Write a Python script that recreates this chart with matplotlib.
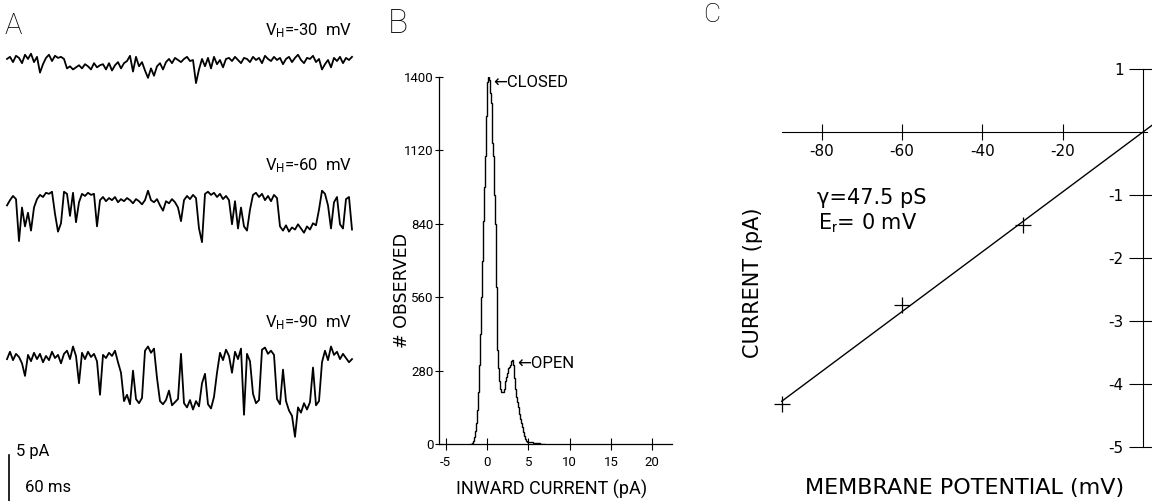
import numpy as np
import matplotlib
matplotlib.use("Agg")
import matplotlib.pyplot as plt

plt.rcParams['axes.unicode_minus'] = False
plt.rcParams['mathtext.fontset'] = 'custom'
plt.rcParams['mathtext.rm'] = 'Roboto'
plt.rcParams['mathtext.it'] = 'Roboto'

NARROW = ['Roboto', 'DejaVu Sans']
PLOTTER = ['DejaVu Sans']

# ---- panel A: single channel records (pA, closed level = 0, openings downward)
trace_30 = [0.1, 0.3, -0.2, 0.4, 0.2, -0.3, 0.5, 0.1, 0.6, -0.2, 0.3, -1.2, -0.4, 0.2, 0.5, -0.1, 0.4, 0.2, 0.3, 0.1,
            -0.8, -0.6, -0.9, -0.7, -0.5, -0.8, -0.4, -0.6, -0.9, -0.3, -0.7, -0.5,
            -0.4, -0.9, -0.3, -1.0, -0.5, -0.2, -0.8, -0.3, -0.1, 0.4, -1.1, 0.3,
            -0.6, -0.2, -1.0, -1.7, -0.8, -1.5, -0.6, -0.3, -0.9, -0.2,
            0.1, -0.3, 0.2, 0.0, -0.2, 0.1, 0.3, -0.1, 0.0, -2.2,
            -0.9, 0.1, -0.6, 0.2, -0.8, 0.3, -0.4, 0.0, -0.7, 0.1,
            0.2, -0.1, 0.3, 0.0, -0.3, 0.2, 0.1, -0.2, 0.3, 0.0, 0.2, -0.3, 0.4, 0.1, -0.1, 0.3, 0.0, 0.2, -0.4, 0.1,
            0.3, -0.2, 0.2, 0.5, 0.0, -0.3, 0.2, 0.1, 0.4, -0.2, 0.1, -0.9, -0.4, 0.0, -0.7, 0.2, -0.1, 0.3, -0.3, 0.2,
            0.0, 0.3]
trace_60 = [-0.8, -0.3, 0.1, -0.2, -4.2, -1.0, -2.8, -1.5, -3.2, -1.0, -0.2, 0.2, 0.0, 0.4, 0.3, 0.5, -1.6, -3.3, -2.5, 0.5,
            0.3, -1.8, 0.4, -2.4, -0.5, 0.3, 0.1, 0.4, 0.2, 0.3, -2.8, -0.3, 0.0, -0.4, -0.1, -0.3, 0.0, -0.5, -0.2, -0.4,
            -0.1, -0.3, -0.6, -0.2, -0.4, -0.7, -0.3, 0.6, -0.3, -0.5, -0.2, -0.8, -1.3, -0.4, -0.6, -0.2, -0.5, -1.0, -2.3, -0.3,
            0.1, -0.2, 0.2, -0.1, -3.0, -4.3, 0.3, 0.5, 0.2, 0.4, 0.0, 0.3, -0.2, 0.1, -0.3, -2.6, -0.4, -3.0, -1.0, -2.8,
            -3.2, -1.2, 0.2, 0.4, 0.0, 0.3, -0.3, 0.1, -0.4, 0.2, -0.1, -2.8, -3.2, -2.7, -3.3, -2.9, -3.1, -2.6, -3.0, -3.4,
            -2.8, -3.1, -2.5, -2.7, -1.2, 0.6, 0.3, -0.8, -3.0, -0.5, 0.0, -2.6, -3.0, -0.2, 0.0, -3.1]
trace_90 = [-0.2, 0.5, -0.3, 0.3, 0.0, -0.6, -1.8, 0.2, -0.4, 0.4, -0.2, 0.3, -0.5, 0.1, -0.3, 0.5, -0.1, 0.2, -0.6, 0.3,
            0.6, -0.2, 1.0, 0.1, -2.5, 0.4, -0.2, 0.5, 0.0, 0.3, -0.4, -3.6, 0.2, -0.1, 0.4, 0.1, 0.6, -0.5, -1.5, -4.2,
            -3.6, -4.5, -1.3, -4.0, -4.4, -3.9, 0.6, 1.0, 0.4, 0.8, -2.0, -4.2, -4.5, -4.1, -3.2, -4.6, -4.3, -4.0, 0.3, -4.4,
            -4.8, -4.1, -5.0, -4.2, -4.7, -2.5, -1.6, -4.5, -4.9, -3.8, -1.5, 0.4, -0.3, 0.7, 0.1, -1.5, 0.5, -0.2, 0.8, -5.5,
            0.3, -0.4, -3.5, -4.4, -4.1, 0.7, 0.9, 0.3, 0.6, 0.2, -4.0, -4.5, -1.2, -4.2, -5.1, -5.6, -7.6, -4.8, -5.3, -4.4,
            -5.0, -4.3, -1.0, -4.6, -4.2, -0.5, 0.6, -0.3, 1.0, 0.2, 0.5, -0.2, 0.3, -0.1, -0.5, -0.2]
trace_labels = [r'V$_{\rm H}$=-30  mV', r'V$_{\rm H}$=-60  mV', r'V$_{\rm H}$=-90  mV']

# ---- panel B: amplitude histogram (0.125 pA bins from -2 pA)
hist_counts = [0, 3, 10, 25, 50, 80, 130, 200,
               300, 420, 560, 700, 850, 980, 1100, 1250,
               1380, 1400, 1390, 1340, 1300, 1150, 1100, 950,
               840, 600, 360, 290, 240, 210, 198, 200,
               210, 240, 255, 270, 290, 295, 300, 315,
               320, 300, 250, 210, 180, 160, 140, 115,
               95, 80, 65, 45, 30, 20, 12, 8,
               6, 7, 9, 8, 7, 5, 4, 3,
               3, 2, 2, 1, 1, 1, 0, 0]
bin_start = -2.0
bin_width = 0.125
hist_yticks = [0, 280, 560, 840, 1120, 1400]
hist_xticks = [-5, 0, 5, 10, 15, 20]

# ---- panel C: I-V relation
iv_voltage = [-90, -60, -30]
iv_current = [-4.32, -2.75, -1.47]
conductance = 0.0475  # nS -> pA per mV
iv_xticks = [-80, -60, -40, -20]
iv_yticks = [1, -1, -2, -3, -4, -5]

W, H = 1152, 501
fig = plt.figure(figsize=(W / 100, H / 100), dpi=100)


def box(x0, y0, x1, y1):
    return [x0 / W, 1 - y1 / H, (x1 - x0) / W, (y1 - y0) / H]


def ftext(x, y, s, **kw):
    fig.text(x / W, 1 - y / H, s, **kw)


# panel A
axA = fig.add_axes(box(0, 0, 360, 501))
px_pa = 10.5
baselines = [60, 197, 357]
for tr, base in zip([trace_30, trace_60, trace_90], baselines):
    t = np.arange(len(tr))
    axA.plot(t, np.array(tr) - (base - baselines[0]) / px_pa, color='black', lw=1.3)
axA.set_xlim(-7 / 3, 353 / 3)
axA.set_ylim(-(H - baselines[0]) / px_pa, baselines[0] / px_pa)
axA.axis('off')
# 5 pA scale bar
bar_top = -(455 - baselines[0]) / px_pa
axA.plot([0.67, 0.67], [bar_top, bar_top - 5], color='black', lw=1.2, clip_on=False)

ftext(13, 26, 'A', family=NARROW, fontsize=21, fontweight='light', ha='center', va='center')
for lab, yb in zip(trace_labels, [35, 170, 327]):
    ftext(352, yb, lab, family=NARROW, fontsize=12, ha='right', va='baseline')
ftext(16, 456, '5 pA', family=NARROW, fontsize=12, va='baseline')
ftext(25, 492, '60 ms', family=NARROW, fontsize=12, va='baseline')

# panel B
axB = fig.add_axes(box(439, 77, 672, 444))
edges = bin_start + bin_width * np.arange(len(hist_counts) + 1)
axB.stairs(hist_counts, edges, color='black', lw=1.0)
axB.set_xlim(-5.81, 22.4)
axB.set_ylim(0, 1400)
for s in ['top', 'right']:
    axB.spines[s].set_visible(False)
for s in ['left', 'bottom']:
    axB.spines[s].set_linewidth(0.9)
axB.set_yticks(hist_yticks)
axB.set_xticks(hist_xticks)
axB.tick_params(axis='y', direction='inout', length=6, pad=1, labelsize=9.5)
axB.tick_params(axis='x', direction='inout', length=8, pad=5, labelsize=9.5)
for lab in axB.get_xticklabels() + axB.get_yticklabels():
    lab.set_family(NARROW)
axB.annotate('\u2190CLOSED', xy=(493 / W, 1 - 83 / H), xycoords='figure fraction',
             family=NARROW, fontsize=12, va='center')
axB.annotate('\u2190OPEN', xy=(517 / W, 1 - 363 / H), xycoords='figure fraction',
             family=NARROW, fontsize=12, va='center')
ftext(398, 24, 'B', family=NARROW, fontsize=24, fontweight='light', ha='center', va='center')
ftext(402, 290, '# OBSERVED', family=PLOTTER, fontsize=12.5, rotation=90, ha='center', va='center')
ftext(552, 489, 'INWARD CURRENT (pA)', family=NARROW, fontsize=13, ha='center', va='center')

# panel C
axC = fig.add_axes(box(760, 60, 1152, 455))
axC.set_xlim((760 - 1143) / 4.015, (1152 - 1143) / 4.015)
axC.set_ylim(-(455 - 132) / 63, (132 - 60) / 63)
v_fit = np.linspace(min(iv_voltage), axC.get_xlim()[1], 2)
axC.plot(v_fit, conductance * v_fit, color='black', lw=1.0)
axC.plot(iv_voltage, iv_current, '+', ms=12, mew=0.9, color='black')
for s in ['top', 'right']:
    axC.spines[s].set_visible(False)
axC.spines['left'].set_position(('data', 0))
axC.spines['bottom'].set_position(('data', 0))
axC.spines['left'].set_bounds(-5, 1)
axC.spines['bottom'].set_bounds(-90, 1)
axC.set_xticks(iv_xticks)
axC.set_yticks(iv_yticks)
axC.tick_params(axis='x', direction='inout', length=12, pad=3, labelsize=11)
axC.tick_params(axis='y', direction='inout', length=20, pad=4, labelsize=11)
for lab in axC.get_xticklabels() + axC.get_yticklabels():
    lab.set_family(PLOTTER)
ftext(712, 15, 'C', family=NARROW, fontsize=19, fontweight='light', ha='center', va='center')
ftext(817, 198, '\u03b3=47.5 pS', family=PLOTTER, fontsize=15, va='center')
ftext(818, 223, r'E$_{\rm r}$= 0 mV', family=PLOTTER, fontsize=15, va='center')
ftext(753, 283, 'CURRENT (pA)', family=PLOTTER, fontsize=15, rotation=90, ha='center', va='center')
ftext(965, 488, 'MEMBRANE POTENTIAL (mV)', family=PLOTTER, fontsize=16, ha='center', va='center')

fig.savefig('out.png', dpi=100)
